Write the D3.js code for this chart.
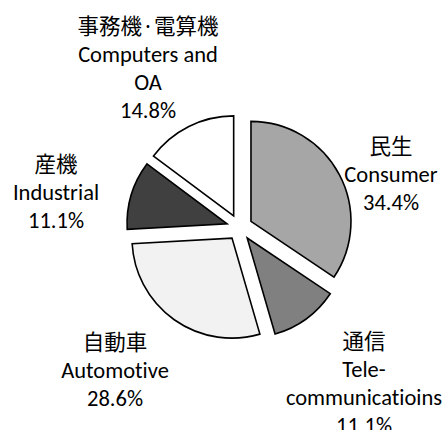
<!DOCTYPE html>
<html>
<head>
<meta charset="utf-8">
<script src="https://cdn.jsdelivr.net/npm/d3@7"></script>
<style>
  html, body { margin: 0; padding: 0; background: #fff; }
  svg { display: block; }
  text { font-variant-ligatures: none; font-feature-settings: "liga" 0; }
</style>
</head>
<body>
<svg id="chart"></svg>
<script>
const WIDTH = 444;
const HEIGHT = 430;

// data, clockwise from 12 o'clock
const namesJa = ["民生", "通信", "自動車", "産機", "事務機·電算機"];
const namesEn = [["Consumer"], ["Tele-", "communicatioins"], ["Automotive"], ["Industrial"], ["Computers and", "OA"]];
const shares = [34.4, 11.1, 28.6, 11.1, 14.8];
const fills = ["#a6a6a6", "#808080", "#f2f2f2", "#404040", "#ffffff"];

// layout
const CX = 239.5, CY = 227.5;
const RADIUS = 100;
const EXPLODE = 13;
const LINE_H = 28;
// label block anchors: x center, baseline of the first line
const labelPos = [
  { x: 391, y: 154 },
  { x: 364, y: 349 },
  { x: 115, y: 350 },
  { x: 56, y: 172 },
  { x: 148, y: 34 }
];

const svg = d3.select("#chart").attr("width", WIDTH).attr("height", HEIGHT);

const rows = shares.map((v, i) => ({ ja: namesJa[i], en: namesEn[i], value: v, fill: fills[i], pos: labelPos[i] }));

const pie = d3.pie().sort(null).value(d => d.value);
const arc = d3.arc().innerRadius(0).outerRadius(RADIUS);

const g = svg.append("g").attr("transform", `translate(${CX},${CY})`);

g.selectAll("path")
  .data(pie(rows))
  .join("path")
  .attr("transform", d => {
    const mid = (d.startAngle + d.endAngle) / 2;
    return `translate(${Math.sin(mid) * EXPLODE},${-Math.cos(mid) * EXPLODE})`;
  })
  .attr("d", arc)
  .attr("fill", d => d.data.fill)
  .attr("stroke", "#000")
  .attr("stroke-width", 1.6)
  .attr("stroke-linejoin", "miter");

// labels
const fmt = v => v.toFixed(1) + "%";
const labels = svg.append("g").attr("class", "labels")
  .selectAll("text")
  .data(rows)
  .join("text")
  .attr("text-anchor", "middle")
  .attr("fill", "#000");

labels.each(function (d) {
  const t = d3.select(this);
  const lines = [{ s: d.ja, ja: true }].concat(d.en.map(s => ({ s, ja: false })), [{ s: fmt(d.value), ja: false }]);
  lines.forEach((l, k) => {
    t.append("tspan")
      .attr("x", d.pos.x)
      .attr("y", d.pos.y + k * LINE_H)
      .attr("font-family", l.ja ? "'Noto Sans CJK JP', sans-serif" : "Carlito, Lato, sans-serif")
      .attr("font-size", l.ja ? 21.5 : 22.5)
      .text(l.s);
  });
});
</script>
</body>
</html>
